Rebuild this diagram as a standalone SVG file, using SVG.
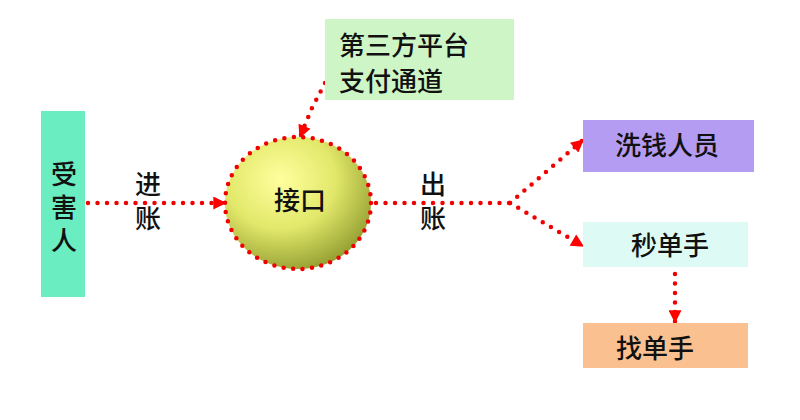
<svg xmlns="http://www.w3.org/2000/svg" width="800" height="420" viewBox="0 0 800 420">
<defs>
<radialGradient id="ball" cx="0.38" cy="0.32" r="0.75">
<stop offset="0" stop-color="#FFFF9E"/>
<stop offset="0.5" stop-color="#E2E86A"/>
<stop offset="1" stop-color="#8C982C"/>
</radialGradient>
<marker id="ah" viewBox="0 0 10 10" refX="9" refY="5" markerWidth="14" markerHeight="13" markerUnits="userSpaceOnUse" orient="auto">
<path d="M0,0 L10,5 L0,10 z" fill="#FF0000"/>
</marker>
</defs>
<style>
.t{font-family:"Noto Sans CJK SC","Noto Sans",sans-serif;font-size:26px;fill:#111;font-weight:500}
.v{writing-mode:vertical-rl;text-anchor:middle}
.d{fill:none;stroke:#F00000;stroke-width:4.5;stroke-linecap:round;stroke-dasharray:0 9.5}
.a{fill:none;stroke:#F00000;stroke-width:4.5;stroke-linecap:round;stroke-dasharray:0 9.5;marker-end:url(#ah)}
</style>
<rect width="800" height="420" fill="#FFFFFF"/>
<g id="connectors">
<line class="a" x1="88" y1="203" x2="225" y2="203"/>
<polyline class="a" points="325,83 312,108 300,137"/>
<polyline class="d" points="376,203 510,203"/>
<line class="a" x1="510" y1="203" x2="583" y2="140"/>
<line class="a" x1="510" y1="203" x2="583" y2="246"/>
<line class="a" x1="675" y1="274" x2="675" y2="322"/>
</g>
<g id="victim">
<rect x="41" y="111" width="44" height="186" fill="#6AEDC0"/>
<text class="t v" x="64" y="211" style="letter-spacing:7px">受害人</text>
</g>
<g id="label-in">
<text class="t v" x="148" y="205" style="letter-spacing:8px">进账</text>
</g>
<g id="interface">
<ellipse cx="298" cy="203" rx="73" ry="66" fill="url(#ball)"/>
<ellipse class="d" cx="298" cy="203" rx="73" ry="66"/>
<text class="t" x="300" y="210" text-anchor="middle">接口</text>
</g>
<g id="third-party">
<rect x="325" y="19" width="189" height="81" fill="#CDF5C6"/>
<text class="t" x="339" y="55">第三方平台</text>
<text class="t" x="339" y="91">支付通道</text>
</g>
<g id="label-out">
<text class="t v" x="433" y="205" style="letter-spacing:8px">出账</text>
</g>
<g id="launderer">
<rect x="583" y="120" width="171" height="52" fill="#B59CF3"/>
<text class="t" x="667" y="155" text-anchor="middle">洗钱人员</text>
</g>
<g id="miaodan">
<rect x="583" y="222" width="165" height="45" fill="#DDFBF4"/>
<text class="t" x="670" y="255" text-anchor="middle">秒单手</text>
</g>
<g id="zhaodan">
<rect x="583" y="323" width="165" height="45" fill="#FAC08F"/>
<text class="t" x="655" y="358" text-anchor="middle">找单手</text>
</g>
</svg>
